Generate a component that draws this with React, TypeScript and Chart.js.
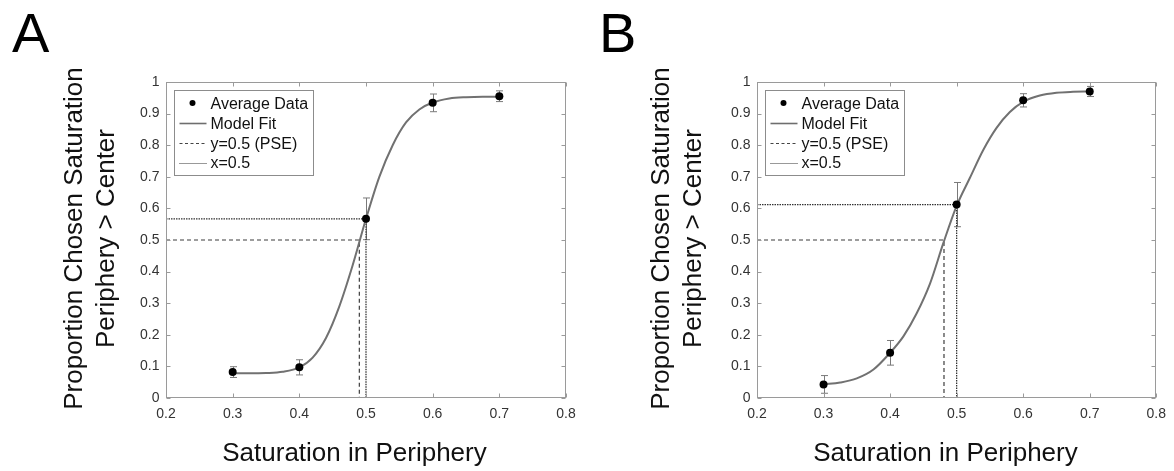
import React, { useEffect, useRef } from "react";
import { Chart, registerables } from "chart.js";

Chart.register(...registerables);

const FONT = "'Liberation Sans', Arial, Helvetica, sans-serif";

// ---- data ----
const xTickValues = [0.2, 0.3, 0.4, 0.5, 0.6, 0.7, 0.8];
const xTickLabels = ["0.2", "0.3", "0.4", "0.5", "0.6", "0.7", "0.8"];
const yTickValues = [0, 0.1, 0.2, 0.3, 0.4, 0.5, 0.6, 0.7, 0.8, 0.9, 1];
const yTickLabels = ["0", "0.1", "0.2", "0.3", "0.4", "0.5", "0.6", "0.7", "0.8", "0.9", "1"];

const saturationLevels = [0.3, 0.4, 0.5, 0.6, 0.7];

const avgA = [0.082, 0.097, 0.567, 0.934, 0.955];
const errA = [0.017, 0.024, 0.066, 0.028, 0.017];
const avgB = [0.043, 0.143, 0.612, 0.942, 0.97];
const errB = [0.028, 0.039, 0.07, 0.021, 0.016];

const fitX = [0.3, 0.325, 0.35, 0.375, 0.4, 0.42, 0.44, 0.46, 0.48, 0.5, 0.52, 0.54, 0.56, 0.58, 0.6, 0.625, 0.65, 0.675, 0.7];
const fitA = [0.078, 0.078, 0.079, 0.083, 0.097, 0.128, 0.19, 0.29, 0.42, 0.567, 0.7, 0.8, 0.872, 0.913, 0.935, 0.948, 0.952, 0.953, 0.953];
const fitB = [0.043, 0.049, 0.062, 0.09, 0.143, 0.195, 0.268, 0.362, 0.49, 0.608, 0.697, 0.785, 0.855, 0.905, 0.937, 0.957, 0.966, 0.969, 0.97];

const pseA = 0.49;
const pseB = 0.481;
const crossA = 0.567;
const crossB = 0.612;

const legendLabels = ["Average Data", "Model Fit", "y=0.5 (PSE)", "x=0.5"];
const xTitle = "Saturation in Periphery";
const yTitleLines = ["Proportion Chosen Saturation", "Periphery > Center"];
const panelLetters = ["A", "B"];

type PanelCfg = {
  letter: string;
  avg: number[];
  err: number[];
  fit: number[];
  pse: number;
  cross: number;
  yAxisWidth: number;
  padRight: number;
  left: number;
};

const panels: PanelCfg[] = [
  { letter: panelLetters[0], avg: avgA, err: errA, fit: fitA, pse: pseA, cross: crossA, yAxisWidth: 166, padRight: 21, left: 0 },
  { letter: panelLetters[1], avg: avgB, err: errB, fit: fitB, pse: pseB, cross: crossB, yAxisWidth: 170, padRight: 16, left: 587 },
];

const FRAME = "#9a9a9a";

function makeDecor(panel: PanelCfg) {
  return {
    id: "decor",
    beforeDatasetsDraw(chart: any) {
      const { ctx, scales } = chart;
      const x = scales.x;
      const y = scales.y;
      ctx.save();
      ctx.strokeStyle = "#7a7a7a";
      ctx.lineWidth = 1;
      saturationLevels.forEach((sx, i) => {
        const px = Math.round(x.getPixelForValue(sx)) + 0.5;
        const top = y.getPixelForValue(panel.avg[i] + panel.err[i]);
        const bot = y.getPixelForValue(panel.avg[i] - panel.err[i]);
        ctx.beginPath();
        ctx.moveTo(px, top);
        ctx.lineTo(px, bot);
        ctx.moveTo(px - 3.5, top);
        ctx.lineTo(px + 3.5, top);
        ctx.moveTo(px - 3.5, bot);
        ctx.lineTo(px + 3.5, bot);
        ctx.stroke();
      });
      ctx.restore();
    },
    afterDraw(chart: any) {
      const { ctx, chartArea: ca, scales } = chart;
      const x = scales.x;
      const y = scales.y;
      ctx.save();
      // frame
      ctx.strokeStyle = FRAME;
      ctx.lineWidth = 1;
      const L = Math.round(ca.left) + 0.5;
      const R = Math.round(ca.right) - 0.5;
      const T = Math.round(ca.top) + 0.5;
      const B = Math.round(ca.bottom) - 0.5;
      ctx.strokeRect(L, T, R - L, B - T);
      // inward ticks
      const tl = 4;
      ctx.beginPath();
      xTickValues.forEach((v) => {
        const px = Math.round(x.getPixelForValue(v)) + 0.5;
        ctx.moveTo(px, B);
        ctx.lineTo(px, B - tl);
        ctx.moveTo(px, T);
        ctx.lineTo(px, T + tl);
      });
      yTickValues.forEach((v) => {
        const py = Math.round(y.getPixelForValue(v)) + 0.5;
        ctx.moveTo(L, py);
        ctx.lineTo(L + tl, py);
        ctx.moveTo(R, py);
        ctx.lineTo(R - tl, py);
      });
      ctx.stroke();

      // legend box
      const bx = Math.round(ca.left) + 8.5;
      const by = Math.round(ca.top) + 8.5;
      const bw = 139;
      const bh = 85;
      ctx.fillStyle = "#fff";
      ctx.fillRect(bx, by, bw, bh);
      ctx.strokeStyle = "#8c8c8c";
      ctx.strokeRect(bx, by, bw, bh);
      ctx.font = `16px ${FONT}`;
      ctx.textAlign = "left";
      ctx.textBaseline = "alphabetic";
      legendLabels.forEach((lab, i) => {
        const cy = by + 12.5 + i * 19.9;
        const x0 = bx + 5;
        const x1 = bx + 32;
        if (i === 0) {
          ctx.fillStyle = "#000";
          ctx.beginPath();
          ctx.arc(bx + 18, cy, 3, 0, Math.PI * 2);
          ctx.fill();
        } else {
          ctx.beginPath();
          if (i === 1) {
            ctx.setLineDash([]);
            ctx.strokeStyle = "#6e6e6e";
            ctx.lineWidth = 1.6;
          } else if (i === 2) {
            ctx.setLineDash([3, 2.5]);
            ctx.strokeStyle = "#444";
            ctx.lineWidth = 1;
          } else {
            ctx.setLineDash([1, 1]);
            ctx.strokeStyle = "#333";
            ctx.lineWidth = 1;
          }
          ctx.moveTo(x0, Math.round(cy) + 0.5);
          ctx.lineTo(x1, Math.round(cy) + 0.5);
          ctx.stroke();
          ctx.setLineDash([]);
        }
        ctx.fillStyle = "#111";
        ctx.fillText(lab, bx + 36, cy + 5.7);
      });

      // x title
      ctx.fillStyle = "#111";
      ctx.font = `26px ${FONT}`;
      ctx.textAlign = "center";
      ctx.textBaseline = "alphabetic";
      ctx.fillText(xTitle, ca.left + 188.5, 461);

      // y title
      ctx.save();
      ctx.translate(0, 238.5);
      ctx.rotate(-Math.PI / 2);
      ctx.textAlign = "center";
      ctx.fillText(yTitleLines[0], 0, 81.7);
      ctx.fillText(yTitleLines[1], 0, 113.6);
      ctx.restore();

      // panel letter
      ctx.font = `56px ${FONT}`;
      ctx.textAlign = "left";
      ctx.fillStyle = "#000";
      ctx.fillText(panel.letter, 12, 52);
      ctx.restore();
    },
  };
}

function Panel({ panel }: { panel: PanelCfg }) {
  const ref = useRef<HTMLCanvasElement | null>(null);
  useEffect(() => {
    if (!ref.current) return;
    const chart = new Chart(ref.current, {
      type: "scatter",
      data: {
        datasets: [
          {
            label: legendLabels[0],
            data: saturationLevels.map((v, i) => ({ x: v, y: panel.avg[i] })),
            pointRadius: 4,
            pointBackgroundColor: "#000",
            pointBorderColor: "#000",
            pointBorderWidth: 0,
            showLine: false,
          } as any,
          {
            label: legendLabels[1],
            data: fitX.map((v, i) => ({ x: v, y: panel.fit[i] })),
            showLine: true,
            borderColor: "#717171",
            borderWidth: 2,
            pointRadius: 0,
            cubicInterpolationMode: "monotone",
          } as any,
          {
            label: legendLabels[2],
            data: [
              { x: 0.2, y: 0.5 },
              { x: panel.pse, y: 0.5 },
              { x: panel.pse, y: 0 },
            ],
            showLine: true,
            borderColor: "#3c3c3c",
            borderWidth: 1.2,
            borderDash: [4, 3],
            pointRadius: 0,
          } as any,
          {
            label: legendLabels[3],
            data: [
              { x: 0.2, y: panel.cross },
              { x: 0.5, y: panel.cross },
              { x: 0.5, y: 0 },
            ],
            showLine: true,
            borderColor: "#333",
            borderWidth: 1.3,
            borderDash: [1.5, 1],
            pointRadius: 0,
          } as any,
        ],
      },
      options: {
        responsive: false,
        animation: false,
        events: [],
        layout: { padding: { left: 0, top: 82, right: panel.padRight, bottom: 0 } },
        plugins: { legend: { display: false }, tooltip: { enabled: false }, title: { display: false } },
        scales: {
          x: {
            type: "linear",
            min: 0.2,
            max: 0.8,
            grid: { display: false, drawTicks: false },
            border: { display: false },
            afterFit: (s: any) => {
              s.height = 73;
            },
            afterBuildTicks: (s: any) => {
              s.ticks = xTickValues.map((v) => ({ value: v }));
            },
            ticks: {
              autoSkip: false,
              maxRotation: 0,
              padding: 8,
              color: "#333",
              font: { size: 14, family: FONT },
              callback: (_v: any, i: number) => xTickLabels[i],
            },
          },
          y: {
            type: "linear",
            min: 0,
            max: 1,
            grid: { display: false, drawTicks: false },
            border: { display: false },
            afterFit: (s: any) => {
              s.width = panel.yAxisWidth;
            },
            afterBuildTicks: (s: any) => {
              s.ticks = yTickValues.map((v) => ({ value: v }));
            },
            ticks: {
              autoSkip: false,
              padding: 6.5,
              color: "#333",
              font: { size: 14, family: FONT },
              callback: (_v: any, i: number) => yTickLabels[i],
            },
          },
        },
      } as any,
      plugins: [makeDecor(panel)],
    });
    return () => chart.destroy();
  }, [panel]);
  return (
    <canvas
      ref={ref}
      width={587}
      height={471}
      style={{ position: "absolute", left: panel.left, top: 0, width: 587, height: 471 }}
    />
  );
}

export default function App() {
  return (
    <div style={{ position: "absolute", left: 0, top: 0, width: 1174, height: 471, background: "#fff", overflow: "hidden" }}>
      {panels.map((p) => (
        <Panel key={p.letter} panel={p} />
      ))}
    </div>
  );
}
